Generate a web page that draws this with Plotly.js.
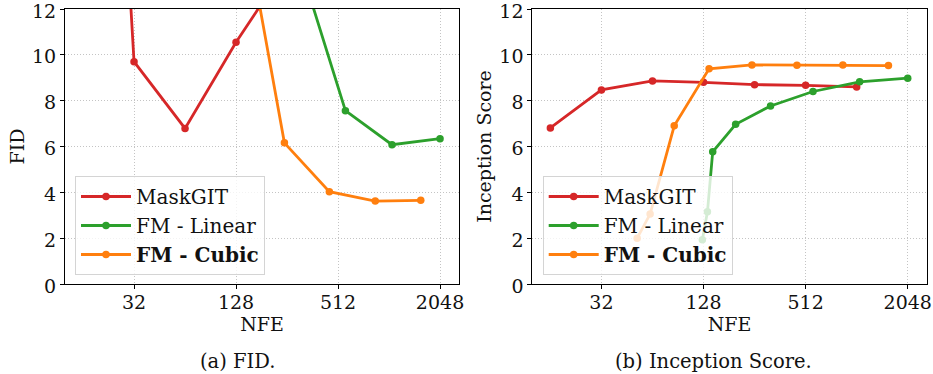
<!DOCTYPE html>
<html>
<head>
<meta charset="utf-8">
<script src="https://cdn.plot.ly/plotly-3.0.1.min.js"></script>
<style>html,body{margin:0;padding:0;background:#fff;}#chart{width:933px;height:374px;}</style>
</head>
<body>
<div id="chart"></div>
<script>
// ---- data ----
const maskgitNFE = [16, 32, 64, 128, 256, 512, 1024];
const maskgitFID = [48, 9.70, 6.79, 10.55, 13.9, 16.5, 19.5];
const maskgitIS  = [6.81, 8.47, 8.86, 8.80, 8.70, 8.67, 8.60];

const linearNFE = [126, 135, 145, 198, 318, 566, 1066, 2048];
const linearFID = [180, 110, 60, 25, 13.5, 7.56, 6.08, 6.34];
const linearIS  = [1.93, 3.15, 5.77, 6.97, 7.77, 8.40, 8.82, 8.98];

const cubicNFE = [52, 62, 86, 138, 247, 455, 849, 1576];
const cubicFID = [160, 100, 40, 16.5, 6.16, 4.03, 3.62, 3.65];
const cubicIS  = [2.00, 3.05, 6.90, 9.39, 9.56, 9.55, 9.56, 9.53];

const seriesNames = ['MaskGIT', 'FM - Linear', '<b>FM - Cubic</b>'];
const xTickVals = [32, 128, 512, 2048];
const xTickText = ['32', '128', '512', '2048'];
const yTickVals = [0, 2, 4, 6, 8, 10, 12];
const captions = ['(a) FID.', '(b) Inception Score.'];

// ---- styling ----
const FONT = 'DejaVu Serif';
const TXT = '#111';
const colors = ['#d62728', '#2ca02c', '#ff7f0e'];
const W = 933, H = 374;

function tr(x, y, i, panel) {
  return {
    x: x, y: y, type: 'scatter', mode: 'lines+markers',
    name: seriesNames[i],
    line: {color: colors[i], width: 2.8},
    marker: {color: colors[i], size: 7.5},
    xaxis: panel === 0 ? 'x' : 'x2',
    yaxis: panel === 0 ? 'y' : 'y2',
    legend: panel === 0 ? 'legend' : 'legend2',
    showlegend: true
  };
}

const data = [
  tr(maskgitNFE, maskgitFID, 0, 0),
  tr(linearNFE, linearFID, 1, 0),
  tr(cubicNFE, cubicFID, 2, 0),
  tr(maskgitNFE, maskgitIS, 0, 1),
  tr(linearNFE, linearIS, 1, 1),
  tr(cubicNFE, cubicIS, 2, 1)
];

const xRange = [Math.log10(12.52), Math.log10(2650)];
const gridStyle = {showgrid: true, gridcolor: '#c4c4c4', griddash: '1px,2px', gridwidth: 1};
function xax(domain) {
  return Object.assign({
    type: 'log', domain: domain, range: xRange,
    tickvals: xTickVals, ticktext: xTickText,
    showline: true, linecolor: '#000', linewidth: 1, mirror: true,
    ticks: 'outside', ticklen: 4, tickcolor: '#000',
    zeroline: false, ticklabeloverflow: 'allow', ticklabelstandoff: -3,
    tickfont: {family: FONT, size: 19, color: TXT},
    title: {text: 'NFE', font: {family: FONT, size: 19, color: TXT}, standoff: 0}
  }, gridStyle);
}
function yax(title, anchor) {
  return Object.assign({
    domain: [90 / H, 365 / H], range: [0, 12], anchor: anchor,
    tickvals: yTickVals,
    showline: true, linecolor: '#000', linewidth: 1, mirror: true,
    ticks: 'outside', ticklen: 4, tickcolor: '#000',
    zeroline: false, ticklabeloverflow: 'allow', ticklabelshift: 2,
    tickfont: {family: FONT, size: 19, color: TXT},
    title: {text: title, font: {family: FONT, size: 19, color: TXT}, standoff: 2}
  }, gridStyle);
}
function leg(x) {
  return {
    x: x, y: 99 / H, xanchor: 'left', yanchor: 'bottom',
    bgcolor: 'rgba(255,255,255,0.8)', bordercolor: '#d4d4d4', borderwidth: 1,
    font: {family: FONT, size: 20, color: TXT},
    tracegroupgap: 0, itemwidth: 50, itemclick: false
  };
}

const layout = {
  width: W, height: H,
  margin: {l: 0, r: 0, t: 0, b: 0},
  paper_bgcolor: '#fff', plot_bgcolor: '#fff',
  font: {family: FONT, color: TXT},
  xaxis: Object.assign(xax([65 / W, 459 / W]), {anchor: 'y'}),
  yaxis: yax('FID', 'x'),
  xaxis2: Object.assign(xax([532.3 / W, 926.7 / W]), {anchor: 'y2'}),
  yaxis2: yax('Inception Score', 'x2'),
  legend: leg(75 / W),
  legend2: leg(542.7 / W),
  annotations: [
    {text: captions[0], x: 237 / W, y: 1 - 361 / H, xref: 'paper', yref: 'paper',
     xanchor: 'center', yanchor: 'middle', showarrow: false,
     font: {family: FONT, size: 19.5, color: TXT}},
    {text: captions[1], x: 713 / W, y: 1 - 361 / H, xref: 'paper', yref: 'paper',
     xanchor: 'center', yanchor: 'middle', showarrow: false,
     font: {family: FONT, size: 19.5, color: TXT}}
  ]
};

Plotly.newPlot('chart', data, layout, {staticPlot: true, displayModeBar: false});
</script>
</body>
</html>
